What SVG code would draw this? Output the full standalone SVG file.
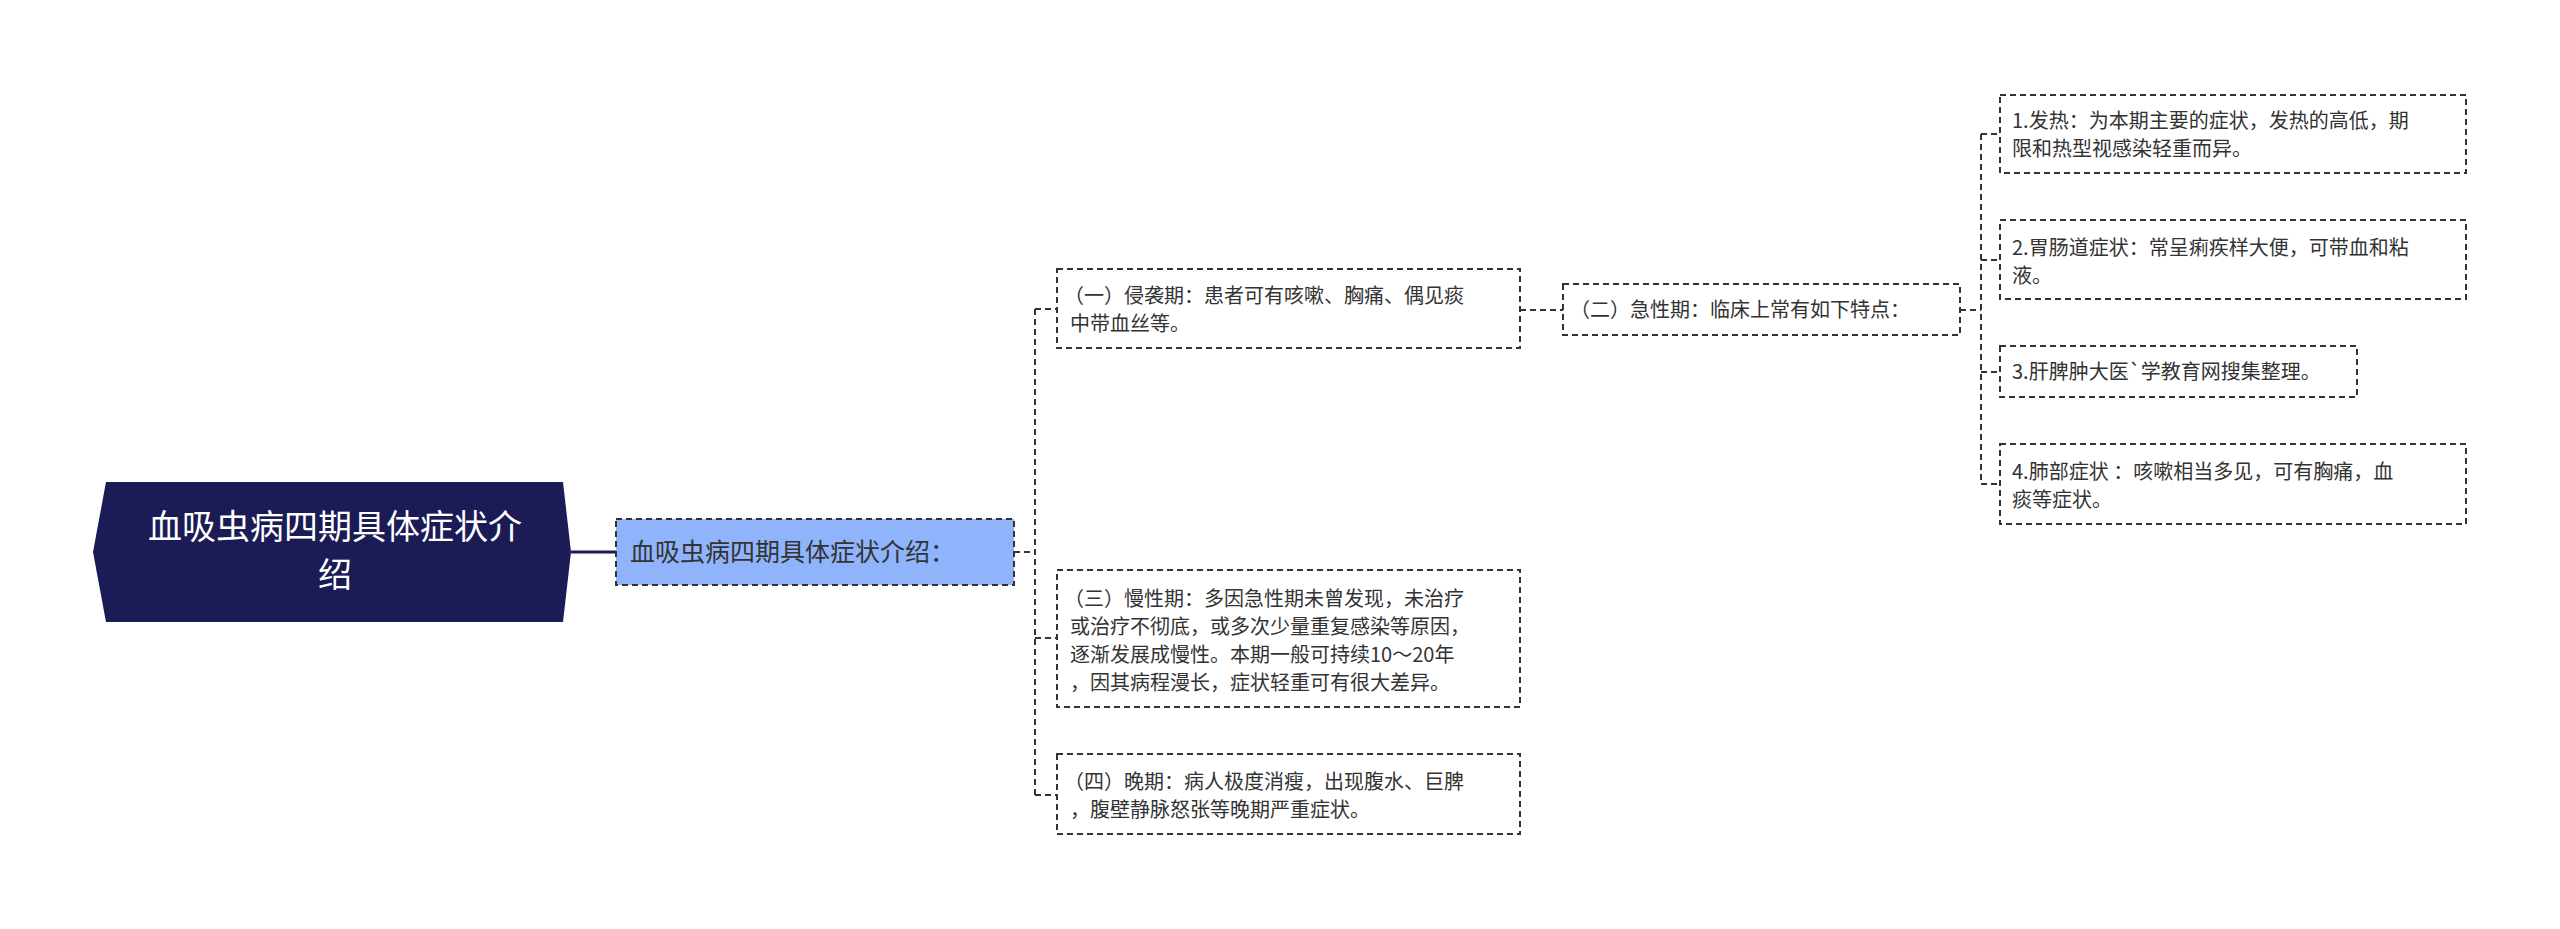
<svg xmlns="http://www.w3.org/2000/svg" width="2560" height="929" viewBox="0 0 2560 929">
<style>
text{font-family:"Noto Sans CJK SC","Noto Sans",sans-serif;fill:#333;font-size:20px}
.box{fill:#fff;stroke:#333;stroke-width:2;stroke-dasharray:6 4}
.ln{fill:none;stroke:#333;stroke-width:2;stroke-dasharray:6 4}
.rt{fill:#fff;font-size:34px}
</style>
<rect width="2560" height="929" fill="#fff"/>
<g id="connectors">
<line x1="571" y1="552" x2="616" y2="552" stroke="#1b1b55" stroke-width="3"/>
<path class="ln" d="M1014 552H1035M1035 309V795M1035 309H1057M1035 638H1057M1035 795H1057"/>
<path class="ln" d="M1520 310H1563"/>
<path class="ln" d="M1960 310H1981M1981 134V484M1981 134H2000M1981 260H2000M1981 372H2000M1981 484H2000"/>
</g>
<g id="root">
<polygon points="106,482 563,482 571,552 563,622 106,622 93,552" fill="#1b1b55"/>
<text class="rt" x="335" y="539" text-anchor="middle">血吸虫病四期具体症状介</text>
<text class="rt" x="335" y="587" text-anchor="middle">绍</text>
</g>
<g id="sub">
<rect x="616" y="519" width="398" height="66" fill="#8fb4fb" stroke="#333" stroke-width="2" stroke-dasharray="6 4"/>
<text x="630" y="561" style="font-size:25px">血吸虫病四期具体症状介绍：</text>
</g>
<g id="n1">
<rect class="box" x="1057" y="269" width="463" height="79"/>
<text x="1064" y="303">（一）侵袭期：患者可有咳嗽、胸痛、偶见痰</text>
<text x="1070" y="331">中带血丝等。</text>
</g>
<g id="n2">
<rect class="box" x="1563" y="284" width="397" height="51"/>
<text x="1570" y="317">（二）急性期：临床上常有如下特点：</text>
</g>
<g id="n3">
<rect class="box" x="1057" y="570" width="463" height="137"/>
<text x="1064" y="606">（三）慢性期：多因急性期未曾发现，未治疗</text>
<text x="1070" y="634">或治疗不彻底，或多次少量重复感染等原因，</text>
<text x="1070" y="662">逐渐发展成慢性。本期一般可持续10～20年</text>
<text x="1070" y="690">，因其病程漫长，症状轻重可有很大差异。</text>
</g>
<g id="n4">
<rect class="box" x="1057" y="754" width="463" height="80"/>
<text x="1064" y="789">（四）晚期：病人极度消瘦，出现腹水、巨脾</text>
<text x="1070" y="817">，腹壁静脉怒张等晚期严重症状。</text>
</g>
<g id="s1">
<rect class="box" x="2000" y="95" width="466" height="78"/>
<text x="2012" y="128">1.发热：为本期主要的症状，发热的高低，期</text>
<text x="2012" y="156">限和热型视感染轻重而异。</text>
</g>
<g id="s2">
<rect class="box" x="2000" y="220" width="466" height="79"/>
<text x="2012" y="255">2.胃肠道症状：常呈痢疾样大便，可带血和粘</text>
<text x="2012" y="283">液。</text>
</g>
<g id="s3">
<rect class="box" x="2000" y="346" width="357" height="51"/>
<text x="2012" y="379">3.肝脾肿大医`学教育网搜集整理。</text>
</g>
<g id="s4">
<rect class="box" x="2000" y="444" width="466" height="80"/>
<text x="2012" y="479">4.肺部症状 ：咳嗽相当多见，可有胸痛，血</text>
<text x="2012" y="507">痰等症状。</text>
</g>
</svg>
